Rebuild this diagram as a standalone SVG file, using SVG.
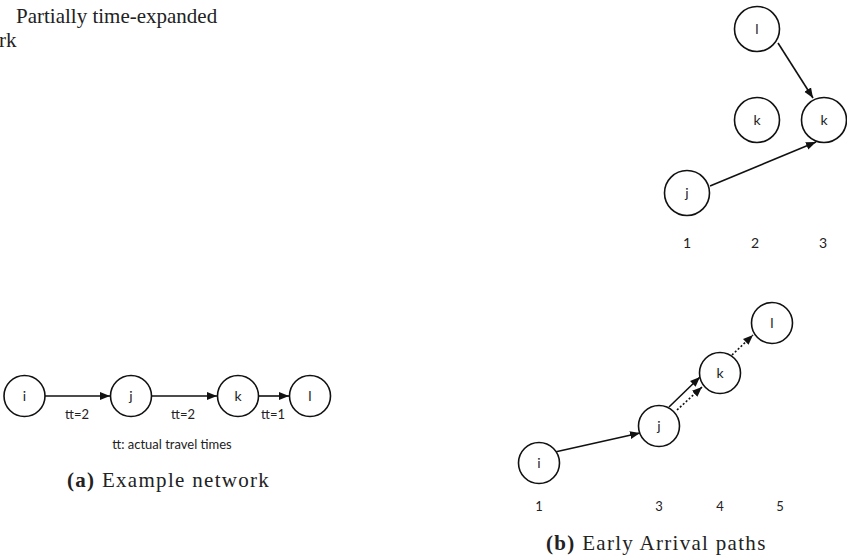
<svg xmlns="http://www.w3.org/2000/svg" width="847" height="557" viewBox="0 0 847 557">
<style>
.n{fill:#fff;stroke:#111;stroke-width:1.6}
.c{stroke:#111;stroke-width:1.6;fill:none}
.d{stroke:#111;stroke-width:1.6;fill:none;stroke-dasharray:2 2}
.t{font-family:Lato,"Open Sans","DejaVu Sans",sans-serif;font-size:14px;fill:#222;text-anchor:middle}
.s{font-family:Lato,"Open Sans","DejaVu Sans",sans-serif;font-size:13px;fill:#222;text-anchor:middle}
.cap{font-family:"Liberation Serif","DejaVu Serif",serif;font-size:21px;fill:#222}
.cw{letter-spacing:1.3px}
</style>
<defs>
<marker id="ah" viewBox="0 0 10 10" refX="10" refY="5" markerWidth="10" markerHeight="10" markerUnits="userSpaceOnUse" orient="auto">
<path d="M0,1 L10,5 L0,9 Z" fill="#111"/>
</marker>
</defs>
<text class="cap" x="16" y="23">Partially time-expanded</text>
<text class="cap" x="-1" y="47">rk</text>

<g id="connectors">
<line class="c" x1="45" y1="396" x2="110" y2="396" marker-end="url(#ah)"/>
<line class="c" x1="152" y1="396" x2="217" y2="396" marker-end="url(#ah)"/>
<line class="c" x1="259" y1="396" x2="289" y2="396" marker-end="url(#ah)"/>
<line class="c" x1="778" y1="43" x2="813" y2="98" marker-end="url(#ah)"/>
<line class="c" x1="710" y1="186" x2="816" y2="142" marker-end="url(#ah)"/>
<line class="c" x1="555" y1="452" x2="640" y2="433" marker-end="url(#ah)"/>
<line class="c" x1="669" y1="407" x2="700" y2="377" marker-end="url(#ah)"/>
<line class="d" x1="677" y1="410" x2="702" y2="387" marker-end="url(#ah)"/>
<line class="d" x1="732" y1="355" x2="753" y2="335" marker-end="url(#ah)"/>
</g>

<g id="a-i"><circle class="n" cx="24.5" cy="396" r="20.5"/><text class="t" x="24.5" y="401">i</text></g>
<g id="a-j"><circle class="n" cx="131" cy="396" r="20.5"/><text class="t" x="131" y="401">j</text></g>
<g id="a-k"><circle class="n" cx="238" cy="396" r="20.5"/><text class="t" x="238" y="401">k</text></g>
<g id="a-l"><circle class="n" cx="310" cy="396" r="20.5"/><text class="t" x="310" y="401">l</text></g>
<g id="a-labels">
<text class="s" x="77" y="419">tt=2</text>
<text class="s" x="183" y="419">tt=2</text>
<text class="s" x="273" y="419">tt=1</text>
<text class="s" x="172" y="449">tt: actual travel times</text>
<text class="cap cw" x="67" y="487"><tspan font-weight="bold">(a)</tspan> Example network</text>
</g>

<g id="t-l"><circle class="n" cx="757" cy="29" r="22.5"/><text class="t" x="757" y="34">l</text></g>
<g id="t-k2"><circle class="n" cx="757" cy="120" r="22.5"/><text class="t" x="757" y="125">k</text></g>
<g id="t-k3"><circle class="n" cx="824" cy="120" r="22.5"/><text class="t" x="824" y="125">k</text></g>
<g id="t-j"><circle class="n" cx="687" cy="193" r="22.5"/><text class="t" x="687" y="198">j</text></g>
<g id="t-labels">
<text class="t" x="687" y="248">1</text>
<text class="t" x="755" y="248">2</text>
<text class="t" x="823" y="248">3</text>
</g>

<g id="b-i"><circle class="n" cx="539" cy="463" r="20.5"/><text class="t" x="539" y="468">i</text></g>
<g id="b-j"><circle class="n" cx="659" cy="426" r="20.5"/><text class="t" x="659" y="431">j</text></g>
<g id="b-k"><circle class="n" cx="720" cy="373" r="20.5"/><text class="t" x="720" y="378">k</text></g>
<g id="b-l"><circle class="n" cx="772" cy="323" r="20.5"/><text class="t" x="772" y="328">l</text></g>
<g id="b-labels">
<text class="s" x="539" y="511">1</text>
<text class="s" x="659" y="511">3</text>
<text class="s" x="720" y="511">4</text>
<text class="s" x="780" y="511">5</text>
<text class="cap cw" x="546" y="550"><tspan font-weight="bold">(b)</tspan> Early Arrival paths</text>
</g>
</svg>
